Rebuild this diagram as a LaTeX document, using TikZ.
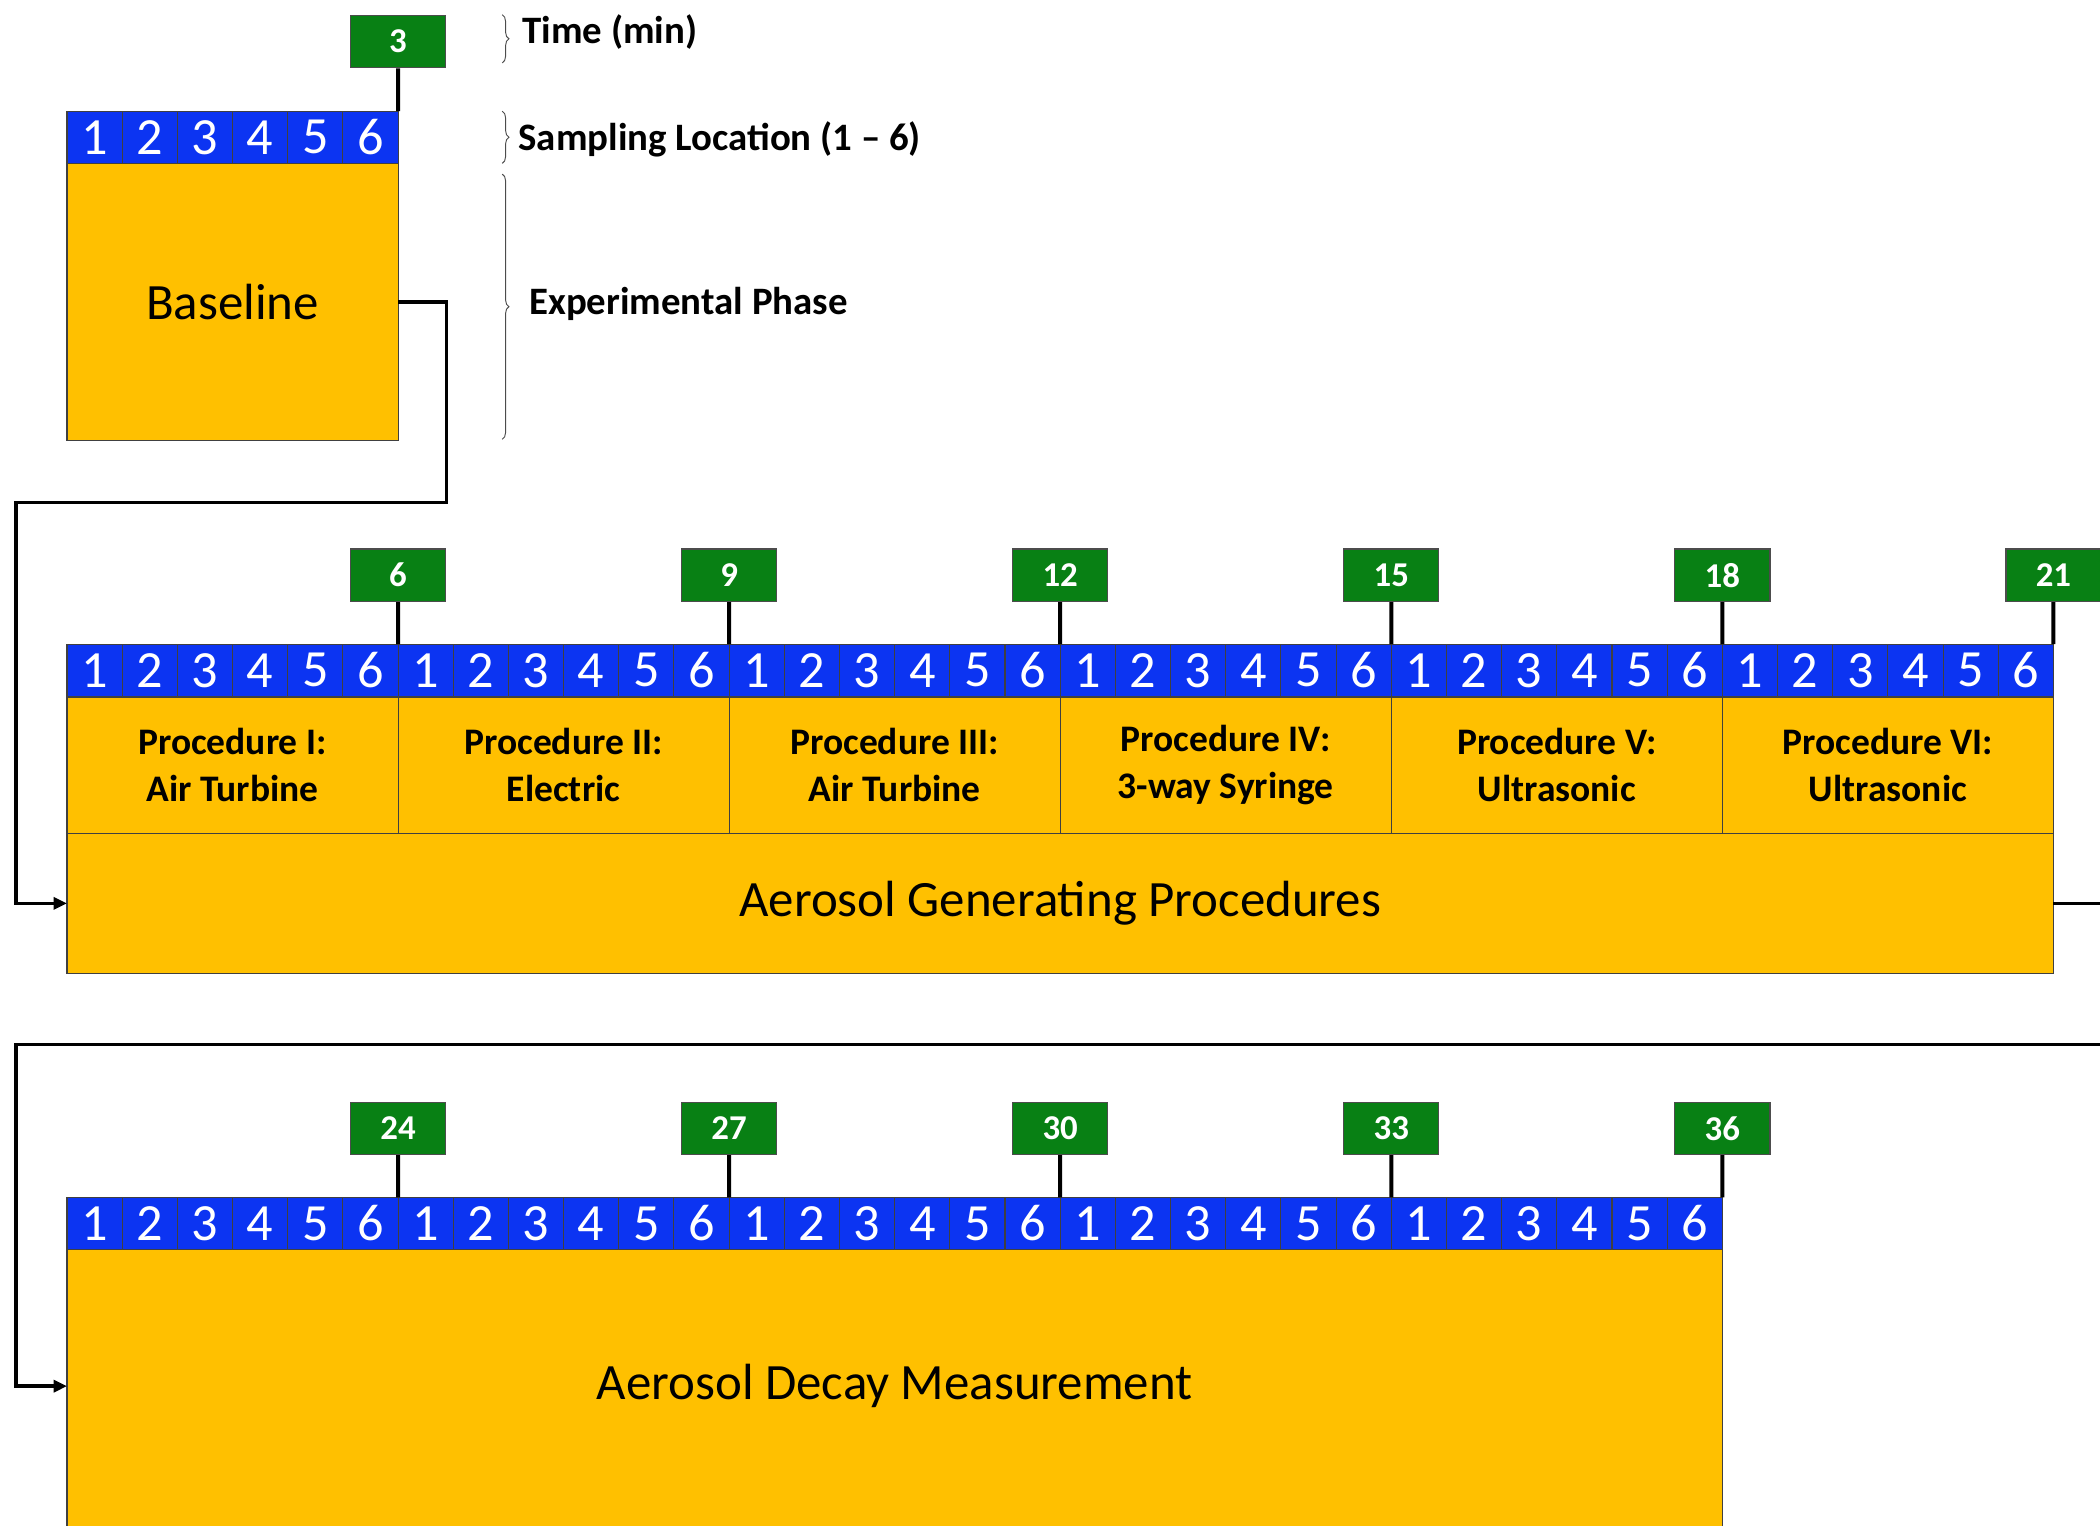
\documentclass[tikz,border=0pt]{standalone}
\usepackage{fontspec}
\setmainfont{Carlito}
\usetikzlibrary{arrows.meta,decorations.pathreplacing}
\definecolor{cellblue}{RGB}{12,52,242}
\definecolor{gold}{RGB}{255,192,0}
\definecolor{tgreen}{RGB}{8,128,20}
\begin{document}
\begin{tikzpicture}[x=1pt,y=-1pt,
  cell/.style={draw=black!75,line width=0.8pt,fill=cellblue,text=white,minimum width=41.2pt,minimum height=39pt,inner sep=0pt,outer sep=0pt,anchor=north west,font=\fontsize{39}{39}\selectfont},
  tbox/.style={draw=black!70,line width=1pt,fill=tgreen,text=white,minimum width=71pt,minimum height=39pt,inner sep=0pt,font=\bfseries\fontsize{26}{26}\selectfont},
  gbox/.style={draw=black!75,line width=0.8pt,fill=gold,inner sep=0pt,outer sep=0pt},
  proc/.style={gbox,minimum width=247.2pt,minimum height=101pt,align=center,font=\bfseries\fontsize{28}{35}\selectfont},
  stem/.style={line width=3pt,black},
  conn/.style={line width=2.5pt,black},
  brc/.style={draw=black!70,line width=0.7pt,decorate,decoration={brace,amplitude=5pt}},
  lbl/.style={anchor=west,inner sep=0pt,font=\bfseries\fontsize{29}{29}\selectfont},
  big/.style={font=\fontsize{38}{38}\selectfont}
]
\useasboundingbox (0,0) rectangle (1568,1139);
\clip (0,0) rectangle (1568,1139);
% Baseline
\node[gbox,minimum width=247.2pt,minimum height=207pt,big] (base) at (173.6,225.5) {Baseline};
\foreach \i in {1,...,6}{
  \node[cell] (a\i) at ({50+(\i-1)*41.2},83) {\i};
}
\node[tbox] (t3) at (297.2,31) {3};
\draw[stem] (t3.south) -- (a6.north east);
% Row 2
\foreach \k/\n/\l in {0/I/Air Turbine,1/II/Electric,2/III/Air Turbine,3/IV/3-way Syringe,4/V/Ultrasonic,5/VI/Ultrasonic}{
  \node[proc] (p\k) at ({50+247.2*(\k+0.5)},571.5) {Procedure \n:\\\l};
}
\node[gbox,minimum width=1483.2pt,minimum height=105pt,big] (agp) at (791.6,674.5) {Aerosol Generating Procedures};
\foreach \i in {1,...,36}{
  \pgfmathtruncatemacro\d{mod(\i-1,6)+1}
  \node[cell] (b\i) at ({50+(\i-1)*41.2},481) {\d};
}
\foreach \k/\t in {6/6,12/9,18/12,24/15,30/18,36/21}{
  \node[tbox] (tb\t) at ({50+\k*41.2},429.5) {\t};
  \draw[stem] (tb\t.south) -- (b\k.north east);
}
% Row 3
\node[gbox,minimum width=1236pt,minimum height=240pt] (adm) at (668,1053) {};
\node[big] (admlabel) at (668,1035) {Aerosol Decay Measurement};
\foreach \i in {1,...,30}{
  \pgfmathtruncatemacro\d{mod(\i-1,6)+1}
  \node[cell] (c\i) at ({50+(\i-1)*41.2},894) {\d};
}
\foreach \k/\t in {6/24,12/27,18/30,24/33,30/36}{
  \node[tbox] (tc\t) at ({50+\k*41.2},842.5) {\t};
  \draw[stem] (tc\t.south) -- (c\k.north east);
}
% connectors
\draw[conn,-{Triangle[length=10pt,width=9pt]}] (base.east) -- ++(36,0) |- (12,375) |- (agp.west);
\draw[conn,-{Triangle[length=10pt,width=9pt]}] (agp.east) -- ++(70,0) |- (12,780) |- (admlabel -| adm.west);
% braces and labels
\draw[brc] (375,11) -- (375,47);
\draw[brc] (375,83) -- (375,122);
\draw[brc] (375,130) -- (375,328);
\node[lbl] (ltime) at (390,24) {Time (min)};
\node[lbl] (lloc) at (387,104) {Sampling Location (1 – 6)};
\node[lbl] (lexp) at (395,227) {Experimental Phase};
\end{tikzpicture}
\end{document}
